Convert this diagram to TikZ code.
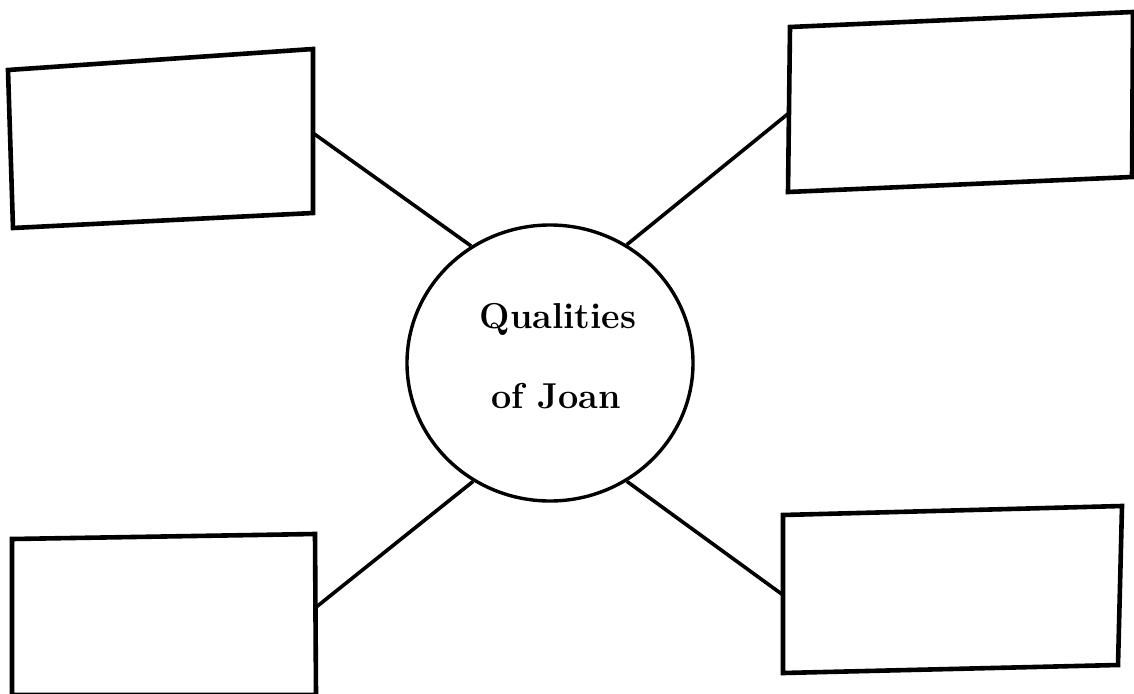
\documentclass[tikz,border=0pt]{standalone}
\usetikzlibrary{shapes.geometric}
\begin{document}
\begin{tikzpicture}[x=1pt,y=-1pt,
  boxline/.style={line width=4.6pt, line join=miter},
  link/.style={line width=3.6pt},
  hub/.style={ellipse, draw, line width=3.4pt, minimum width=286pt, minimum height=276pt, inner sep=0pt},
  label/.style={font=\fontsize{36}{40}\selectfont\bfseries, anchor=base, inner sep=0pt}]
\useasboundingbox[fill=white] (0,0) rectangle (1134,693);
% central circle
\node[hub] (Q) at (550,363) {};
\node[label] (q1) at (558,328) {Qualities};
\node[label] (q2) at (556,408) {of Joan};
% boxes
\coordinate (tla) at (8,70);   \coordinate (tlb) at (313,49);
\coordinate (tlc) at (313,213); \coordinate (tld) at (13,228);
\draw[boxline] (tla) -- (tlb) -- (tlc) -- (tld) -- cycle;
\coordinate (tlp) at (313,133);

\coordinate (tra) at (790,27);   \coordinate (trb) at (1133,12);
\coordinate (trc) at (1132,177); \coordinate (trd) at (788,192);
\draw[boxline] (tra) -- (trb) -- (trc) -- (trd) -- cycle;
\coordinate (trp) at (789,113);

\coordinate (bla) at (12,539);  \coordinate (blb) at (315,534);
\coordinate (blc) at (316,695); \coordinate (bld) at (12,695);
\draw[boxline] (bla) -- (blb) -- (blc) -- (bld) -- cycle;
\coordinate (blp) at (315,608);

\coordinate (bra) at (783,515);  \coordinate (brb) at (1122,506);
\coordinate (brc) at (1118,665); \coordinate (brd) at (783,673);
\draw[boxline] (bra) -- (brb) -- (brc) -- (brd) -- cycle;
\coordinate (brp) at (783,595);
% connectors
\draw[link] (tlp) -- (Q.124);
\draw[link] (trp) -- (Q.57.6);
\draw[link] (blp) -- (Q.237.4);
\draw[link] (brp) -- (Q.303.3);
\end{tikzpicture}
\end{document}
